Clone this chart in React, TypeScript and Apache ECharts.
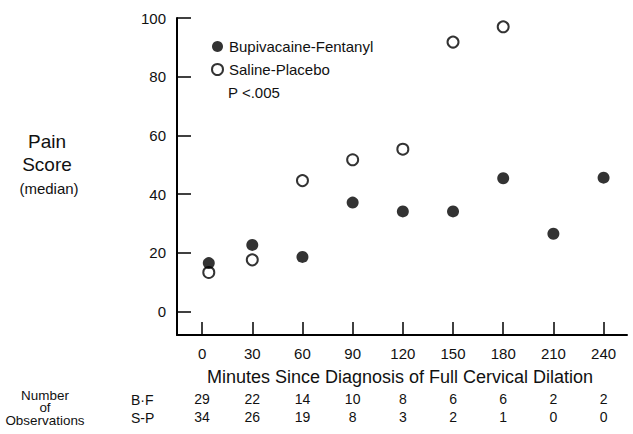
import React, { useEffect, useRef } from "react";
import * as echarts from "echarts";

const minutes = [0, 30, 60, 90, 120, 150, 180, 210, 240];
const bfTimes = [4, 30, 60, 90, 120, 150, 180, 210, 240];
const bfScores = [16.5, 22.7, 18.6, 37.1, 34.1, 34.1, 45.4, 26.5, 45.6];
const spTimes = [4, 30, 60, 90, 120, 150, 180];
const spScores = [13.3, 17.6, 44.6, 51.7, 55.3, 91.8, 97];
const yTicks = [0, 20, 40, 60, 80, 100];
const bfCounts = [29, 22, 14, 10, 8, 6, 6, 2, 2];
const spCounts = [34, 26, 19, 8, 3, 2, 1, 0, 0];

const FONT = "'Liberation Sans', Arial, Helvetica, sans-serif";
const INK = "#111";

export default function App() {
  const ref = useRef<HTMLDivElement>(null);
  useEffect(() => {
    if (!ref.current) return;
    const chart = echarts.init(ref.current, null, { renderer: "svg" });
    const countAxis = (counts: number[], offset: number) => ({
      type: "value",
      min: -15,
      max: 254,
      position: "bottom",
      offset,
      axisLine: { show: false },
      axisTick: { show: false },
      splitLine: { show: false },
      axisLabel: {
        customValues: minutes,
        margin: 8,
        fontSize: 14,
        fontFamily: FONT,
        color: INK,
        formatter: (v: number) => String(counts[minutes.indexOf(v)]),
      },
    });
    chart.setOption({
      animation: false,
      backgroundColor: "#fff",
      grid: { left: 177, right: 6, top: 18, bottom: 99 },
      xAxis: [
        {
          type: "value",
          min: -15,
          max: 254,
          axisLine: { onZero: false, lineStyle: { color: "#000", width: 2 } },
          axisTick: {
            inside: true,
            length: 13,
            customValues: minutes,
            lineStyle: { color: "#000", width: 1.5 },
          },
          axisLabel: {
            customValues: minutes,
            margin: 11,
            fontSize: 15,
            fontFamily: FONT,
            color: INK,
          },
          splitLine: { show: false },
        },
        countAxis(bfCounts, 49),
        countAxis(spCounts, 67),
      ],
      yAxis: {
        type: "value",
        min: -8,
        max: 100,
        axisLine: { onZero: false, lineStyle: { color: "#000", width: 2 } },
        axisTick: {
          inside: true,
          length: 14,
          customValues: yTicks,
          lineStyle: { color: "#000", width: 1.5 },
        },
        axisLabel: {
          customValues: yTicks,
          margin: 11,
          fontSize: 15,
          fontFamily: FONT,
          color: INK,
        },
        splitLine: { show: false },
      },
      legend: {
        orient: "vertical",
        left: 206,
        top: 34,
        itemWidth: 11,
        itemHeight: 11,
        itemGap: 8,
        textStyle: { fontSize: 15, fontFamily: FONT, color: INK, lineHeight: 14, padding: [0, 0, 0, 1] },
        data: [
          { name: "Bupivacaine-Fentanyl", icon: "circle" },
          { name: "Saline-Placebo", icon: "circle" },
        ],
      },
      series: [
        {
          name: "Bupivacaine-Fentanyl",
          type: "scatter",
          symbol: "circle",
          symbolSize: 12,
          itemStyle: { color: "#000" },
          data: bfTimes.map((t, i) => [t, bfScores[i]]),
          z: 3,
        },
        {
          name: "Saline-Placebo",
          type: "scatter",
          symbol: "circle",
          symbolSize: 11,
          itemStyle: { color: "#fff", borderColor: "#000", borderWidth: 2 },
          data: spTimes.map((t, i) => [t, spScores[i]]),
          z: 2,
        },
      ],
      graphic: [
        { type: "text", left: 228, top: 85, style: { text: "P <.005", font: `15px ${FONT}`, fill: INK } },
        {
          type: "text",
          x: 400,
          y: 377,
          style: {
            text: "Minutes Since Diagnosis of Full Cervical Dilation",
            font: `18px ${FONT}`,
            fill: INK,
            align: "center",
            verticalAlign: "middle",
          },
        },
        { type: "text", x: 47, y: 141, style: { text: "Pain", font: `19px ${FONT}`, fill: INK, align: "center", verticalAlign: "middle" } },
        { type: "text", x: 47, y: 164, style: { text: "Score", font: `19px ${FONT}`, fill: INK, align: "center", verticalAlign: "middle" } },
        { type: "text", x: 49, y: 188, style: { text: "(median)", font: `15px ${FONT}`, fill: INK, align: "center", verticalAlign: "middle" } },
        {
          type: "text",
          x: 45,
          y: 408,
          scaleX: 1.12,
          style: {
            text: "Number\nof\nObservations",
            font: `12px ${FONT}`,
            lineHeight: 12.5,
            fill: INK,
            align: "center",
            verticalAlign: "middle",
          },
        },
        { type: "text", x: 131, y: 400, style: { text: "B·F", font: `14px ${FONT}`, fill: INK, align: "left", verticalAlign: "middle" } },
        { type: "text", x: 131, y: 418, style: { text: "S-P", font: `14px ${FONT}`, fill: INK, align: "left", verticalAlign: "middle" } },
      ],
    });
    return () => chart.dispose();
  }, []);
  return (
    <div
      ref={ref}
      style={{ position: "fixed", left: 0, top: 0, width: 633, height: 434 }}
    />
  );
}
